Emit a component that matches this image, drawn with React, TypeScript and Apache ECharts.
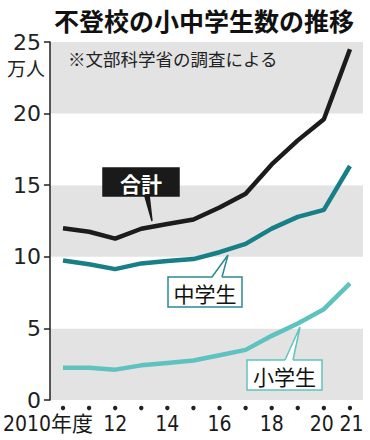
import React, { useEffect, useRef } from "react";
import * as echarts from "echarts";

const years = ["2010", "2011", "2012", "2013", "2014", "2015", "2016", "2017", "2018", "2019", "2020", "2021"];
const yearLabels = ["2010年度", "", "12", "", "14", "", "16", "", "18", "", "20", "21"];
const totalValues = [11.99, 11.75, 11.27, 11.96, 12.29, 12.6, 13.44, 14.4, 16.45, 18.13, 19.61, 24.49];
const juniorValues = [9.74, 9.48, 9.14, 9.54, 9.7, 9.84, 10.32, 10.9, 11.97, 12.79, 13.28, 16.34];
const elementaryValues = [2.25, 2.26, 2.12, 2.42, 2.59, 2.76, 3.12, 3.5, 4.48, 5.34, 6.34, 8.15];
const yTicks = { min: 0, max: 25, interval: 5 };

const CJK = "'Noto Sans CJK JP', sans-serif";
const NARROW = "'Liberation Sans Narrow', 'DejaVu Sans Condensed', 'Noto Sans CJK JP', sans-serif";

export default function App() {
  const ref = useRef<HTMLDivElement>(null);
  useEffect(() => {
    document.body.style.margin = "0";
    if (!ref.current) return;
    const chart = echarts.init(ref.current, undefined, { renderer: "svg" });
    const callout = (
      box: { x: number; y: number; w: number; h: number },
      base: [number, number],
      tip: [number, number],
      text: string,
      fill: string,
      stroke: string,
      textColor: string,
      bold: boolean
    ) => [
      {
        type: "rect",
        shape: { x: box.x, y: box.y, width: box.w, height: box.h },
        style: { fill, stroke, lineWidth: 1.5 },
        z: 10,
      },
      {
        type: "polygon",
        shape: { points: [[base[0], box.y + 1], tip, [base[1], box.y + 1]] },
        style: { fill, stroke: "none" },
        z: 11,
      },
      {
        type: "polyline",
        shape: { points: [[base[0], box.y], tip, [base[1], box.y]] },
        style: { fill: "none", stroke, lineWidth: 1.5 },
        z: 12,
      },
      {
        type: "text",
        x: box.x + box.w / 2,
        y: box.y + box.h / 2 + 1,
        style: {
          text,
          fill: textColor,
          font: `${bold ? "bold " : ""}21px ${CJK}`,
          align: "center",
          verticalAlign: "middle",
        },
        z: 13,
      },
    ];

    const labStyle = { fontFamily: NARROW, fontSize: 21, color: "#1a1a1a", lineHeight: 22 };

    chart.setOption({
      animation: false,
      grid: { left: 49, right: 7, top: 42, bottom: 40 },
      xAxis: {
        type: "category",
        data: years,
        boundaryGap: true,
        axisLine: { show: false },
        axisTick: { show: false },
        axisLabel: {
          interval: 0,
          hideOverlap: false,
          margin: 13,
          formatter: (_v: string, i: number) => {
            const lab = yearLabels[i];
            if (i === 0) return `{first|${lab}}`;
            if (i === years.length - 2) return `{left|${lab}}`;
            if (i === years.length - 1) return `{right|${lab}}`;
            return lab === "" ? "" : `{lab|${lab}}`;
          },
          rich: {
            lab: labStyle,
            first: { ...labStyle, padding: [0, 30, 0, 0] },
            left: { ...labStyle, padding: [0, 4, 0, 0] },
            right: { ...labStyle, padding: [0, 0, 0, 3] },
          },
        },
      },
      yAxis: {
        type: "value",
        min: yTicks.min,
        max: yTicks.max,
        interval: yTicks.interval,
        axisLine: { show: true, lineStyle: { color: "#222", width: 1.5 } },
        axisTick: { show: true, length: 6, lineStyle: { color: "#222", width: 1.5 } },
        axisLabel: { margin: 9, fontFamily: "'DejaVu Sans', sans-serif", fontSize: 22, color: "#222" },
        splitLine: { show: false },
        splitArea: { show: true, areaStyle: { color: ["#e3e3e4", "#ffffff"] } },
      },
      series: [
        {
          type: "line",
          name: "合計",
          data: totalValues,
          symbol: "none",
          lineStyle: { color: "#1c1c1c", width: 4.5 },
          z: 3,
        },
        {
          type: "line",
          name: "中学生",
          data: juniorValues,
          symbol: "none",
          lineStyle: { color: "#177f86", width: 4.5 },
          z: 2,
        },
        {
          type: "line",
          name: "小学生",
          data: elementaryValues,
          symbol: "none",
          lineStyle: { color: "#5ec3bf", width: 4.5 },
          z: 2,
        },
      ],
    });

    const axisY = chart.convertToPixel({ yAxisIndex: 0 }, 0) as number;
    const dots = years.map((y) => ({
      type: "circle",
      shape: { cx: chart.convertToPixel({ xAxisIndex: 0 }, y) as number, cy: axisY + 8, r: 2.2 },
      style: { fill: "#222" },
      z: 5,
    }));

    chart.setOption({
      graphic: [
        {
          type: "text",
          x: 204,
          y: 7,
          style: {
            text: "不登校の小中学生数の推移",
            fill: "#111",
            font: `bold 25px ${CJK}`,
            align: "center",
            verticalAlign: "top",
          },
        },
        {
          type: "text",
          x: 7,
          y: 58,
          style: { text: "万人", fill: "#222", font: `19px ${CJK}`, align: "left", verticalAlign: "top" },
        },
        {
          type: "text",
          x: 68,
          y: 50,
          style: {
            text: "※文部科学省の調査による",
            fill: "#222",
            font: `17.5px ${CJK}`,
            align: "left",
            verticalAlign: "top",
          },
          z: 5,
        },
        ...dots,
        ...callout({ x: 103, y: 168, w: 76, h: 28 }, [137, 146], [152, 221], "合計", "#1a1a1a", "#1a1a1a", "#fff", true),
        ...callout({ x: 168, y: 277, w: 74, h: 30 }, [212, 222], [228, 255], "中学生", "#fff", "#2a8a8f", "#111", false),
        ...callout({ x: 247, y: 360, w: 75, h: 30 }, [285, 293], [300, 327], "小学生", "#fff", "#5ec3bf", "#111", false),
      ],
    });
    return () => chart.dispose();
  }, []);
  return <div ref={ref} style={{ width: 370, height: 440 }} />;
}
